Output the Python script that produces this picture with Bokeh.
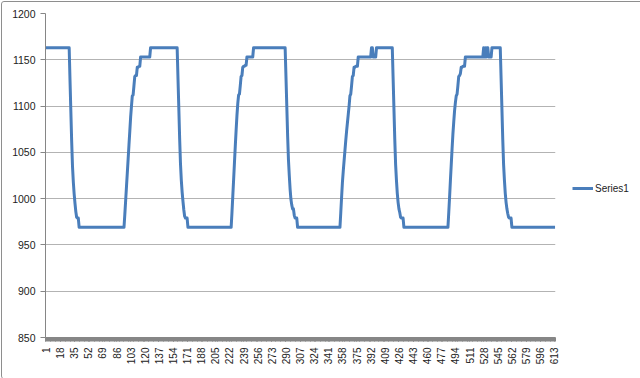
import math
import numpy as np
from bokeh.plotting import figure
from bokeh.models import (ColumnDataSource, Range1d, FixedTicker, Legend, LegendItem)
from bokeh.embed import file_html
from bokeh.resources import INLINE

# ---- data (run-length encoded: level, how many categories) ----
# cycle 1
lv_c1 = [1163, 1128, 1095, 1062, 1035, 1018, 1005, 995, 986, 980, 979, 969,
         983, 998, 1013, 1028, 1043, 1058, 1073, 1088, 1100, 1111, 1112, 1122, 1132, 1133, 1142, 1143,
         1153, 1163]
rn_c1 = [29, 1, 1, 1, 1, 1, 1, 1, 1, 1, 2, 55,
         1, 1, 1, 1, 1, 1, 1, 1, 1, 1, 1, 1, 1, 2, 2, 2,
         12, 33]
# cycle 2
lv_c2 = [1130, 1098, 1065, 1038, 1020, 1007, 997, 988, 981, 979, 969,
         985, 1003, 1021, 1039, 1057, 1074, 1090, 1103, 1112, 1113, 1122, 1132, 1133, 1142, 1143, 1144,
         1153, 1163]
rn_c2 = [1, 1, 1, 1, 1, 1, 1, 1, 1, 3, 53,
         1, 1, 1, 1, 1, 1, 1, 1, 1, 1, 1, 1, 1, 1, 2, 2,
         8, 39]
# cycle 3
lv_c3 = [1132, 1100, 1068, 1042, 1025, 1010, 999, 993, 989, 982, 979, 969,
         985, 1002, 1018, 1030, 1041, 1052, 1063, 1073, 1082, 1091, 1100, 1111, 1113, 1122, 1132, 1133,
         1142, 1143, 1153, 1163, 1153, 1163]
rn_c3 = [1, 1, 1, 1, 1, 1, 1, 1, 2, 1, 3, 52,
         1, 1, 1, 1, 1, 1, 1, 1, 1, 1, 1, 1, 1, 1, 1, 1,
         2, 3, 16, 2, 4, 20]
# cycle 4
lv_c4 = [1130, 1097, 1064, 1037, 1020, 1006, 996, 989, 985, 980, 979, 969,
         985, 1002, 1020, 1037, 1054, 1070, 1083, 1095, 1104, 1111, 1113, 1122, 1132, 1133, 1135,
         1142, 1143, 1153, 1163, 1153, 1163, 1153, 1163, 1153, 1163]
rn_c4 = [1, 1, 1, 1, 1, 1, 1, 1, 1, 1, 3, 54,
         1, 1, 1, 1, 1, 1, 1, 1, 1, 1, 1, 1, 1, 1, 1,
         2, 3, 22, 1, 1, 1, 1, 2, 4, 11]
# tail
lv_c5 = [1130, 1097, 1064, 1037, 1020, 1006, 996, 989, 984, 980, 979, 969]
rn_c5 = [1, 1, 1, 1, 1, 1, 1, 1, 1, 1, 3, 53]

x_tick_labels = ["1", "18", "35", "52", "69", "86", "103", "120", "137", "154", "171",
                 "188", "205", "222", "239", "256", "273", "290", "307", "324", "341",
                 "358", "375", "392", "409", "426", "443", "460", "477", "494", "511",
                 "528", "545", "562", "579", "596", "613"]
y_ticks = [850, 900, 950, 1000, 1050, 1100, 1150, 1200]
series_name = "Series1"

levels = lv_c1 + lv_c2 + lv_c3 + lv_c4 + lv_c5
runs = rn_c1 + rn_c2 + rn_c3 + rn_c4 + rn_c5
values = np.repeat(levels, runs)
categories = np.arange(1, len(values) + 1)
n = len(values)

src = ColumnDataSource(data=dict(x=categories, y=values))

FONT = "Liberation Sans"
TXT = "#222222"
AXC = "#868686"

p = figure(frame_width=510, frame_height=324, output_backend="svg", toolbar_location=None,
           x_range=Range1d(0.5, n + 0.5), y_range=Range1d(850, 1200),
           min_border_left=43, min_border_right=85, min_border_top=11, min_border_bottom=41)
p.styles = {"border": "1px solid #8e8e8e", "border-radius": "3px", "margin": "1px"}
p.outline_line_color = None
p.background_fill_color = "white"
p.border_fill_color = "white"

r = p.line("x", "y", source=src, line_color="#4a7ebb", line_width=3, line_join="round")

tick_pos = [int(t) for t in x_tick_labels]
p.xaxis.ticker = FixedTicker(ticks=tick_pos, minor_ticks=list(categories))
p.xaxis.major_label_overrides = {t: s for t, s in zip(tick_pos, x_tick_labels)}
p.xaxis.major_label_orientation = math.pi / 2
p.xaxis.axis_line_color = AXC
p.xaxis.major_tick_line_color = AXC
p.xaxis.minor_tick_line_color = AXC
p.xaxis.major_tick_in = 0
p.xaxis.major_tick_out = 4
p.xaxis.minor_tick_in = 0
p.xaxis.minor_tick_out = 4
p.xaxis.major_label_standoff = 6
p.xaxis.major_label_text_font = FONT
p.xaxis.major_label_text_font_size = "10px"
p.xaxis.major_label_text_color = TXT

p.yaxis.ticker = FixedTicker(ticks=y_ticks)
p.yaxis.axis_line_color = AXC
p.yaxis.major_tick_line_color = AXC
p.yaxis.minor_tick_line_color = None
p.yaxis.major_tick_in = 0
p.yaxis.major_tick_out = 5
p.yaxis.major_label_standoff = 5
p.yaxis.major_label_text_font = FONT
p.yaxis.major_label_text_font_size = "10.5px"
p.yaxis.major_label_text_color = TXT

p.xgrid.grid_line_color = None
p.ygrid.grid_line_color = "#b3b3b3"
p.ygrid.ticker = FixedTicker(ticks=y_ticks)

legend = Legend(items=[LegendItem(label=series_name, renderers=[r])],
                location=(17, 142), border_line_color=None, background_fill_alpha=0,
                padding=0, margin=0, glyph_width=21, glyph_height=14, label_standoff=2,
                label_text_font=FONT, label_text_font_size="10px", label_text_color=TXT)
p.add_layout(legend, "right")

open("out.html", "w").write(file_html(p, INLINE))
